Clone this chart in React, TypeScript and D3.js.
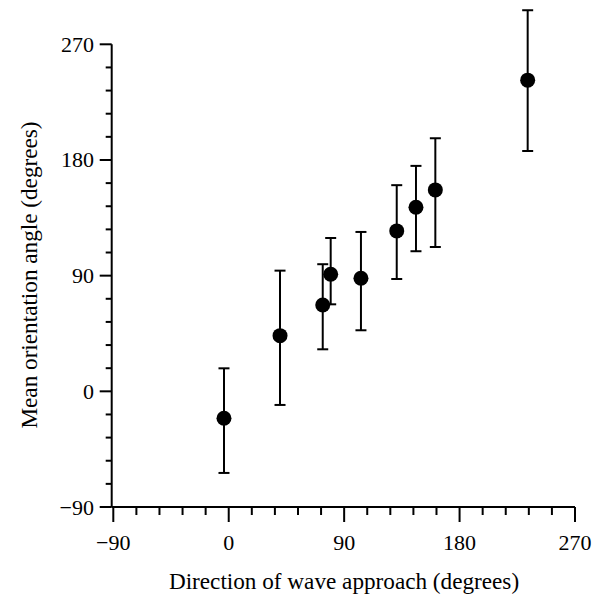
import React, { useEffect } from "react";
import * as d3 from "d3";

const waveDirection = [-3.7, 40, 73.3, 79.5, 103.1, 131, 146, 161.1, 233.1];
const meanAngle = [-21, 43.3, 67.2, 91.1, 88, 124.8, 143.2, 156.7, 242.1];
const errLow = [-63.5, -10.6, 32.7, 67.7, 47.5, 87.4, 109, 112.3, 187];
const errHigh = [17.9, 93.9, 98.9, 119.3, 124, 160.4, 175.4, 196.9, 296.5];
const majorTicks = [-90, 0, 90, 180, 270];
const minorTicks = d3.range(-90, 271, 18).filter((v) => !majorTicks.includes(v));
const tickLabels = ["\u221290", "0", "90", "180", "270"];

const W = 600;
const H = 596;
const FONT = "'Liberation Serif', 'Times New Roman', serif";

export default function App() {
  useEffect(() => {
    document.body.style.margin = "0";
  }, []);

  const x = d3.scaleLinear().domain([-90, 270]).range([113.3, 575]);
  const y = d3.scaleLinear().domain([-90, 270]).range([507, 44.3]);
  const axX = 111.7;
  const axY = 507;

  return (
    <svg width={W} height={H} style={{ display: "block", background: "#fff" }}>
      <g stroke="#000" strokeWidth={2} fill="none">
        <line x1={axX} x2={575} y1={axY} y2={axY} />
        <line x1={axX} x2={axX} y1={axY} y2={y(270)} />
        {majorTicks.map((t) => (
          <line key={"xm" + t} x1={x(t)} x2={x(t)} y1={axY} y2={axY + 15} />
        ))}
        {minorTicks.map((t) => (
          <line key={"xn" + t} x1={x(t)} x2={x(t)} y1={axY} y2={axY + 8} />
        ))}
        {majorTicks.map((t) => (
          <line key={"ym" + t} x1={axX} x2={axX - 12} y1={y(t)} y2={y(t)} />
        ))}
        {minorTicks.map((t) => (
          <line key={"yn" + t} x1={axX} x2={axX - 6} y1={y(t)} y2={y(t)} />
        ))}
      </g>
      <g fontFamily={FONT} fontSize={22} fill="#000">
        {majorTicks.map((t, i) => (
          <text key={"xl" + t} x={x(t)} y={550} textAnchor="middle">
            {tickLabels[i]}
          </text>
        ))}
        {majorTicks.map((t, i) => (
          <text key={"yl" + t} x={94} y={y(t) + 7.5} textAnchor="end">
            {tickLabels[i]}
          </text>
        ))}
      </g>
      <g fontFamily={FONT} fontSize={23.2} fill="#000">
        <text x={344} y={589} textAnchor="middle">
          Direction of wave approach (degrees)
        </text>
        <text transform={`translate(37,275) rotate(-90)`} textAnchor="middle">
          Mean orientation angle (degrees)
        </text>
      </g>
      <g stroke="#000" strokeWidth={2}>
        {waveDirection.map((d, i) => (
          <g key={"e" + i}>
            <line x1={x(d)} x2={x(d)} y1={y(errLow[i])} y2={y(errHigh[i])} />
            <line x1={x(d) - 5.5} x2={x(d) + 5.5} y1={y(errLow[i])} y2={y(errLow[i])} />
            <line x1={x(d) - 5.5} x2={x(d) + 5.5} y1={y(errHigh[i])} y2={y(errHigh[i])} />
          </g>
        ))}
      </g>
      <g fill="#000">
        {waveDirection.map((d, i) => (
          <circle key={"c" + i} cx={x(d)} cy={y(meanAngle[i])} r={7.5} />
        ))}
      </g>
    </svg>
  );
}
